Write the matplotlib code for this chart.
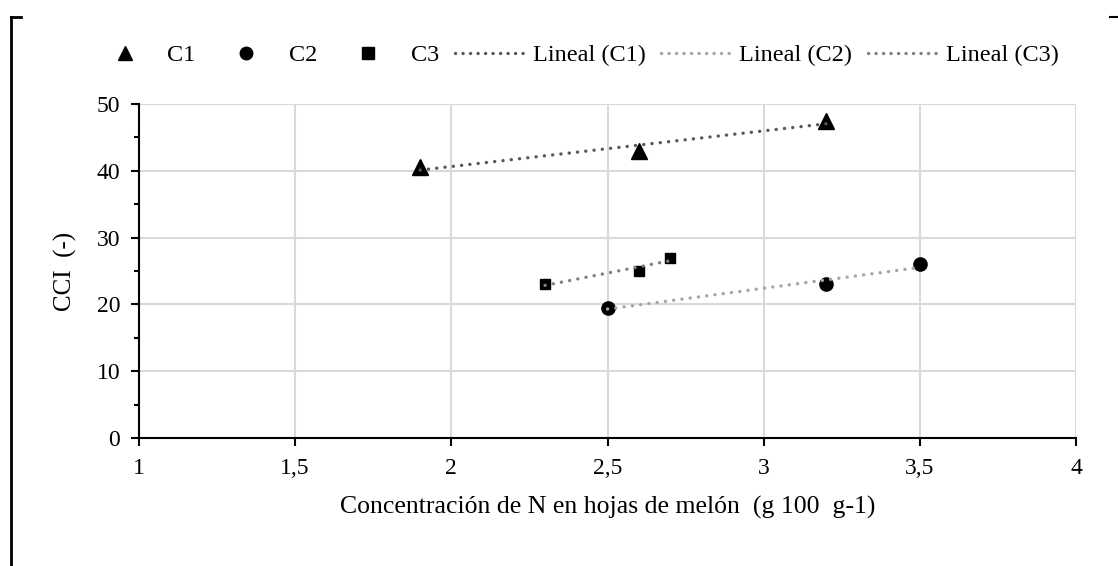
import matplotlib
matplotlib.use("Agg")
import matplotlib.pyplot as plt
import numpy as np
from matplotlib.lines import Line2D

plt.rcParams['font.family'] = ['Liberation Serif', 'DejaVu Serif']

c1_x = [1.9, 2.6, 3.2]
c1_y = [40.5, 43.0, 47.5]
c2_x = [2.5, 3.2, 3.5]
c2_y = [19.5, 23.0, 26.0]
c3_x = [2.3, 2.6, 2.7]
c3_y = [23.0, 25.0, 27.0]

x_ticks = [1, 1.5, 2, 2.5, 3, 3.5, 4]
x_labels = ["1", "1,5", "2", "2,5", "3", "3,5", "4"]
y_ticks = [0, 10, 20, 30, 40, 50]

fig = plt.figure(figsize=(11.18, 5.66), dpi=100)
ax = fig.add_axes([139/1118, 1-438/566, (1076-139)/1118, (438-104)/566])

DOT = (0, (0.05, 2.45))
series = [
    (c1_x, c1_y, '^', '#595959', 11, 10.5),
    (c2_x, c2_y, 'o', '#a6a6a6', 9.5, 9),
    (c3_x, c3_y, 's', '#808080', 7.5, 8),
]
handles_m, handles_l = [], []
for xs, ys, mk, lc, ms, lms in series:
    ax.plot(xs, ys, linestyle='none', marker=mk, color='black', markersize=ms, zorder=3)
    xs_a = np.array(xs); ys_a = np.array(ys)
    k, b = np.polyfit(xs_a, ys_a, 1)
    xl = np.array([xs_a.min(), xs_a.max()])
    ax.plot(xl, k*xl + b, linestyle=DOT, color=lc, linewidth=2.4,
            dash_capstyle='round', zorder=4)
    handles_m.append(Line2D([], [], linestyle='none', marker=mk, color='black', markersize=lms))
    handles_l.append(Line2D([], [], linestyle=(0, (0.05, 2.2)), color=lc, linewidth=2.4,
                            dash_capstyle='round'))

ax.set_xlim(1, 4)
ax.set_ylim(0, 50)
ax.set_xticks(x_ticks)
ax.set_xticklabels(x_labels)
ax.set_yticks(y_ticks)
ax.set_yticks([5, 15, 25, 35, 45], minor=True)
ax.grid(True, which='major', color='#d9d9d9', linewidth=1.5, zorder=0)
ax.set_axisbelow(True)
for s in ['top', 'right']:
    ax.spines[s].set_visible(False)
for s in ['left', 'bottom']:
    ax.spines[s].set_linewidth(1.5)
    ax.spines[s].set_color('black')
ax.tick_params(axis='both', which='major', direction='out', length=5.5, width=1.5,
               labelsize=17, colors='black')
ax.tick_params(axis='x', which='major', pad=9)
ax.tick_params(axis='y', which='major', pad=8)
ax.tick_params(axis='y', which='minor', direction='out', length=3.5, width=1.5)
ax.tick_params(axis='x', which='minor', bottom=False)

ax.set_xlabel("Concentración de N en hojas de melón  (g 100  g-1)", fontsize=18.5, labelpad=12)
ax.set_ylabel("CCI  (-)", fontsize=18, labelpad=14)

leg_handles = handles_m + handles_l
leg_labels = ['C1', 'C2', 'C3', 'Lineal (C1)', 'Lineal (C2)', 'Lineal (C3)']
fig.legend(leg_handles, leg_labels, loc='center', bbox_to_anchor=(574/1118, 1-55/566), ncol=6,
           frameon=False, fontsize=17.5, handlelength=2.9, columnspacing=0.65,
           handletextpad=0.3, borderaxespad=0, borderpad=0)

# frame bracket fragments
fig.add_artist(Line2D([11/1118, 11/1118], [0, 1-17/566], color='black', linewidth=2,
                      transform=fig.transFigure))
fig.add_artist(Line2D([11/1118, 21/1118], [1-17/566, 1-17/566], color='black', linewidth=2,
                      transform=fig.transFigure))
fig.add_artist(Line2D([1110/1118, 1], [1-17/566, 1-17/566], color='black', linewidth=1.5,
                      transform=fig.transFigure))

fig.savefig('out.png', dpi=100)
